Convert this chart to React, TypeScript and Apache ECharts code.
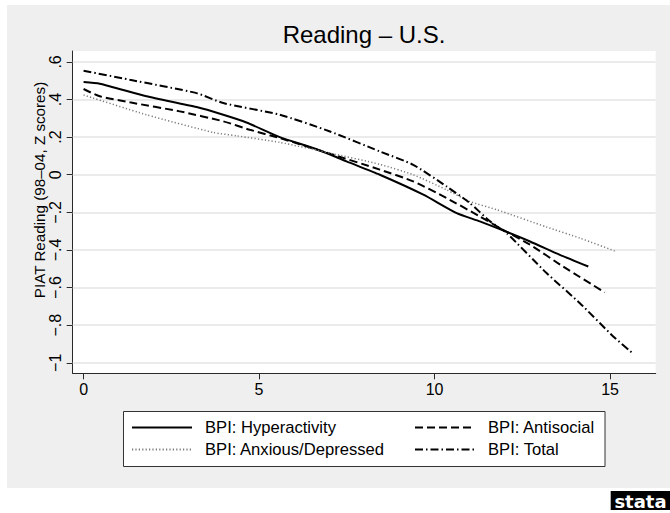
import React, { useEffect, useRef } from "react";
import * as echarts from "echarts";

// ---- data ----
const titleText = "Reading \u2013 U.S.";
const yTitle = "PIAT Reading (98\u201304, Z scores)";
const xTicks = [0, 5, 10, 15];
const yTicks = [-1, -0.8, -0.6, -0.4, -0.2, 0, 0.2, 0.4, 0.6];

const hyperactivity = [
  [0, 0.493], [0.46, 0.484], [1.79, 0.417], [3.22, 0.36], [3.98, 0.319],
  [4.64, 0.278], [5.59, 0.2], [6.54, 0.142], [7.11, 0.101], [7.49, 0.071],
  [8.44, 0.0], [9.68, -0.106], [10.63, -0.204], [11.29, -0.248],
  [11.95, -0.296], [12.72, -0.355], [13.57, -0.426], [14.38, -0.488],
];
const antisocial = [
  [0, 0.456], [0.46, 0.417], [1.32, 0.385], [2.74, 0.337], [3.98, 0.284],
  [4.74, 0.239], [5.59, 0.195], [7.02, 0.112], [8.44, 0.027], [9.39, -0.035],
  [10.34, -0.124], [11.29, -0.222], [11.95, -0.293], [12.72, -0.372],
  [13.66, -0.488], [14.85, -0.626],
];
const anxious = [
  [0, 0.424], [1.79, 0.319], [3.69, 0.225], [4.36, 0.207], [5.59, 0.172],
  [7.02, 0.115], [8.44, 0.055], [9.39, 0.0], [10.34, -0.08], [11.0, -0.142],
  [11.77, -0.186], [13.19, -0.278], [14.14, -0.337], [15.17, -0.408],
];
const total = [
  [0, 0.553], [1.32, 0.505], [3.22, 0.434], [3.98, 0.381], [5.59, 0.319],
  [7.02, 0.23], [8.44, 0.124], [9.39, 0.053], [10.34, -0.062], [11.0, -0.15],
  [11.58, -0.248], [12.05, -0.31], [13.19, -0.523], [14.14, -0.683],
  [15.09, -0.86], [15.66, -0.952],
];
const seriesNames = [
  "BPI: Hyperactivity",
  "BPI: Antisocial",
  "BPI: Anxious/Depressed",
  "BPI: Total",
];

const FONT = "'Liberation Sans', Arial, Helvetica, sans-serif";

function fmtY(v: number) {
  const r = Math.round(v * 10) / 10;
  if (r === 0) return "0";
  const s = Math.abs(r).toString().replace(/^0\./, ".");
  return (r < 0 ? "\u2212" : "") + s;
}

export default function App() {
  const ref = useRef<HTMLDivElement>(null);
  useEffect(() => {
    if (!ref.current) return;
    const chart = echarts.init(ref.current, null, { renderer: "svg" });
    const axisColor = "#2a2a2a";
    const legendCommon = {
      orient: "vertical",
      itemWidth: 60,
      itemHeight: 16,
      itemGap: 5,
      padding: 0,
      selectedMode: false,
      itemStyle: { opacity: 0, borderWidth: 0 },
      textStyle: { fontSize: 16.6, color: "#000", fontFamily: FONT, padding: [0, 0, 0, 8] },
    };
    const option: any = {
      animation: false,
      backgroundColor: "#ffffff",
      textStyle: { fontFamily: FONT },
      grid: {
        left: 72.7,
        right: 14.3,
        top: 51,
        bottom: 139.7,
        containLabel: false,
        outerBoundsMode: "none",
      },
      xAxis: {
        type: "value",
        min: -0.31,
        max: 16.3,
        axisLine: { show: true, onZero: false, lineStyle: { color: axisColor, width: 1 } },
        axisTick: { show: true, length: 6, customValues: xTicks, lineStyle: { color: axisColor, width: 1 } },
        axisLabel: { customValues: xTicks, fontSize: 16, color: "#000", margin: 8, fontFamily: FONT },
        splitLine: { show: false },
      },
      yAxis: {
        type: "value",
        min: -1.056,
        max: 0.658,
        axisLine: { show: true, onZero: false, lineStyle: { color: axisColor, width: 1 } },
        axisTick: { show: true, length: 6, customValues: yTicks, lineStyle: { color: axisColor, width: 1 } },
        axisLabel: {
          customValues: yTicks,
          rotate: 90,
          fontSize: 16,
          color: "#000",
          margin: 9.5,
          fontFamily: FONT,
          formatter: (v: number) => fmtY(v),
        },
        splitLine: { show: false },
      },
      legend: [
        { ...legendCommon, left: 131, top: 419, data: [seriesNames[0], seriesNames[2]] },
        { ...legendCommon, left: 414, top: 419, data: [seriesNames[1], seriesNames[3]] },
      ],
      graphic: [
        { type: "rect", z: -2, silent: true, shape: { x: 7, y: 5, width: 663, height: 483 }, style: { fill: "#efefef" } },
        { type: "rect", z: -1, silent: true, shape: { x: 72.7, y: 51, width: 583, height: 322.3 }, style: { fill: "#ffffff" } },
        {
          type: "rect", z: 1, silent: true,
          shape: { x: 123.5, y: 411.5, width: 481.5, height: 55 },
          style: { fill: "#ffffff", stroke: "#333", lineWidth: 1 },
        },
        {
          type: "text", x: 364, y: 22, silent: true,
          style: { text: titleText, fontSize: 24, fontFamily: FONT, fill: "#000", align: "center", verticalAlign: "top" },
        },
        {
          type: "text", x: 39, y: 190, rotation: Math.PI / 2, silent: true,
          style: { text: yTitle, fontSize: 15.2, fontFamily: FONT, fill: "#000", align: "center", verticalAlign: "middle" },
        },
        { type: "rect", silent: true, shape: { x: 610.7, y: 491, width: 60, height: 19 }, style: { fill: "#000" } },
        {
          type: "text", x: 640.5, y: 501, silent: true,
          style: { text: "stata", fontSize: 18, fontWeight: "bold", fontFamily: "'DejaVu Sans', sans-serif", fill: "#fff", align: "center", verticalAlign: "middle" },
        },
      ],
      series: [
        {
          type: "line", name: seriesNames[0], data: hyperactivity, symbol: "none", smooth: 0.2,
          itemStyle: { color: "#000" },
          lineStyle: { color: "#000", width: 2, type: "solid" },
          markLine: {
            silent: true, z: 1, symbol: ["none", "none"], label: { show: false },
            lineStyle: { color: "#e4e4e4", width: 1.5, type: "solid" },
            data: yTicks.map((v) => ({ yAxis: v })),
          },
        },
        {
          type: "line", name: seriesNames[1], data: antisocial, symbol: "none", smooth: 0.2,
          itemStyle: { color: "#000" },
          lineStyle: { color: "#000", width: 2, type: [8, 4] },
        },
        {
          type: "line", name: seriesNames[2], data: anxious, symbol: "none", smooth: 0.2,
          itemStyle: { color: "#7a7a7a" },
          lineStyle: { color: "#7a7a7a", width: 1.5, type: [1.2, 2.2] },
        },
        {
          type: "line", name: seriesNames[3], data: total, symbol: "none", smooth: 0.2,
          itemStyle: { color: "#000" },
          lineStyle: { color: "#000", width: 2, type: [8, 3, 1.5, 3] },
        },
      ],
    };
    chart.setOption(option);
    return () => chart.dispose();
  }, []);
  return (
    <div
      ref={ref}
      style={{ position: "fixed", left: 0, top: 0, width: 670, height: 513 }}
    />
  );
}
